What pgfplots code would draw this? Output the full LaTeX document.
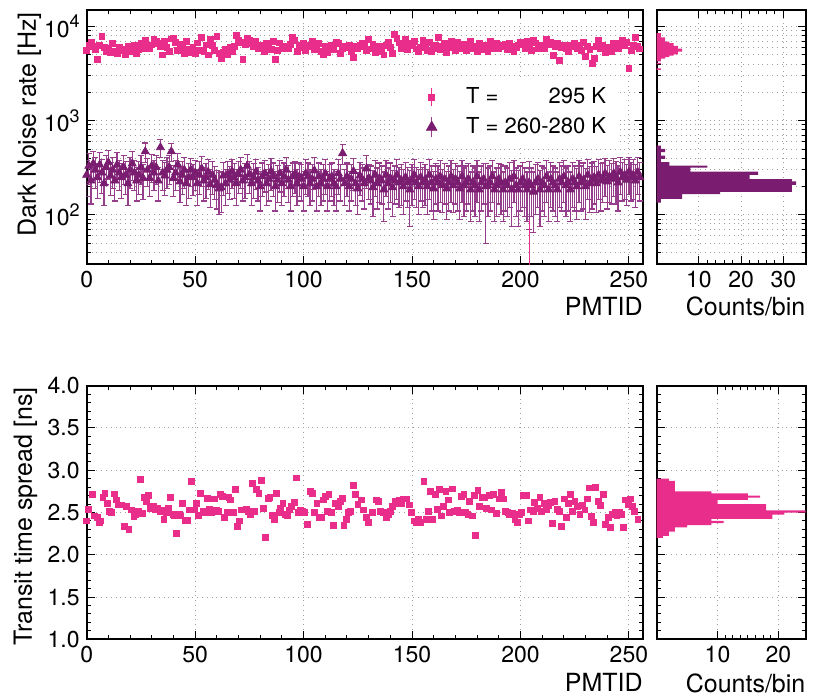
\documentclass[border=0pt]{standalone}
\usepackage{fontspec}
\setmainfont{TeX Gyre Heros}
\usepackage{pgfplots}
\usepackage{pgfplotstable}
\pgfplotsset{compat=1.18}
\definecolor{pinkc}{RGB}{232,45,138}
\definecolor{purplec}{RGB}{122,28,112}
\definecolor{errc}{RGB}{150,62,140}
\newcommand\tenpow[1]{10\raisebox{0.42em}{\fontsize{9}{9}\selectfont #1}}
\newcommand\fs{\fontsize{11.5}{13.5}\selectfont}
\newcommand\fl{\fontsize{12.5}{14.5}\selectfont}
\newcommand\fleg{\fontsize{11}{13}\selectfont}
\pgfplotsset{rootstyle/.style={
  scale only axis, font=\fs,
  /pgf/number format/assume math mode=true,
  axis line style={line width=0.9pt},
  every tick/.style={black, line width=0.5pt},
  major tick length=4pt, minor tick length=2pt,
  grid style={dotted, gray!75, line width=0.5pt},
  tick label style={font=\fs},
  label style={font=\fl},
}}

\pgfplotstableread[row sep=\\]{v\\
5600\\6400\\6800\\6100\\5700\\4500\\6300\\7900\\6000\\5400\\5900\\5300\\6600\\5500\\5200\\6000\\
5800\\5600\\5000\\6200\\5400\\5900\\6300\\5200\\5700\\6600\\5900\\7100\\6100\\5800\\6400\\7300\\
6900\\6600\\6200\\5000\\7000\\6000\\5400\\7400\\7500\\6800\\5600\\6500\\6100\\5200\\6900\\5700\\
5300\\6000\\5200\\6700\\5600\\7700\\5500\\6400\\5000\\7400\\6300\\5600\\7800\\5200\\4600\\5300\\
5800\\5000\\6000\\5500\\6200\\8000\\7200\\6800\\4500\\6500\\7500\\7100\\6600\\6200\\6900\\5800\\
6300\\6000\\5400\\6600\\6400\\5700\\7000\\4500\\5600\\6700\\5900\\6200\\6100\\5800\\6500\\7600\\
7100\\5500\\6300\\6000\\6700\\5600\\6400\\6200\\6900\\5700\\5900\\6600\\5500\\5000\\6100\\5300\\
6000\\6400\\5700\\6800\\6600\\5200\\5800\\6200\\6000\\6400\\5500\\4700\\6100\\5900\\6300\\6700\\
6100\\5600\\7300\\5800\\6500\\5300\\6000\\6200\\5500\\5000\\6300\\6800\\6000\\5200\\8300\\7500\\
6700\\5900\\6100\\7300\\5700\\6300\\6600\\6900\\5800\\5500\\6000\\7100\\6500\\5600\\6800\\5400\\
5900\\6400\\7600\\5700\\6200\\6600\\5300\\6000\\7000\\6400\\5600\\6800\\6100\\5900\\6500\\5600\\
6300\\7000\\5800\\6200\\5500\\6700\\6100\\5700\\6400\\5500\\6900\\6200\\5900\\6600\\5800\\6300\\
6100\\6500\\5700\\6700\\6200\\5500\\6000\\6400\\6800\\6600\\5800\\6900\\6300\\5600\\7100\\6700\\
5900\\6400\\6200\\5800\\7300\\6500\\6800\\4900\\6100\\6600\\4400\\6000\\6400\\5800\\5500\\6300\\
6100\\6700\\5900\\6300\\5600\\6800\\4800\\6200\\5700\\4100\\4600\\6100\\7200\\5900\\6400\\5300\\
5800\\6000\\5500\\6600\\6200\\5900\\6700\\7100\\6300\\6800\\3600\\5600\\6400\\7600\\6100\\5800\\
}\pinktop

\pgfplotstableread[row sep=\\]{v e\\
265 110\\330 120\\230 100\\350 120\\300 110\\250 100\\340 120\\280 110\\215 90\\320 110\\360 120\\260 100\\300 110\\230 90\\340 120\\280 100\\
250 100\\320 110\\265 100\\215 90\\300 110\\350 120\\280 100\\230 90\\265 100\\320 110\\245 100\\470 110\\300 100\\245 90\\330 110\\280 100\\
320 110\\230 90\\520 110\\280 100\\260 100\\300 110\\320 110\\470 100\\245 90\\280 100\\340 110\\225 90\\265 100\\300 110\\215 90\\250 100\\
300 100\\250 90\\280 100\\215 90\\265 100\\310 110\\230 90\\250 100\\285 100\\210 90\\265 100\\235 90\\205 90\\190 90\\195 90\\260 100\\
215 90\\270 100\\235 90\\290 100\\250 100\\215 90\\270 100\\300 110\\230 90\\250 100\\330 110\\270 100\\215 90\\250 100\\285 100\\230 90\\
200 90\\255 100\\275 100\\215 90\\240 100\\290 110\\255 100\\200 90\\235 100\\275 100\\215 90\\255 100\\300 110\\235 100\\200 90\\255 100\\
270 100\\215 90\\255 100\\240 100\\200 90\\275 110\\255 100\\215 90\\240 100\\295 110\\200 90\\255 100\\215 90\\240 100\\275 110\\200 90\\
240 100\\255 100\\215 90\\200 90\\275 110\\240 100\\450 110\\215 90\\255 100\\200 90\\240 100\\290 110\\215 90\\190 90\\260 100\\240 100\\
215 100\\310 120\\245 100\\230 100\\195 100\\265 110\\215 100\\245 110\\230 100\\185 100\\265 110\\215 100\\245 110\\195 100\\230 100\\265 120\\
220 100\\235 110\\200 100\\250 110\\220 100\\185 110\\235 110\\265 120\\220 100\\200 100\\250 110\\220 100\\235 110\\200 100\\265 120\\220 110\\
190 100\\240 110\\220 110\\255 120\\205 100\\240 110\\190 100\\220 110\\255 120\\205 100\\240 110\\220 110\\190 100\\255 120\\205 110\\220 110\\
240 110\\185 100\\220 110\\205 110\\255 120\\185 100\\220 110\\240 110\\200 150\\205 110\\220 110\\255 120\\185 100\\205 110\\240 110\\220 120\\
185 100\\220 110\\205 110\\240 120\\185 110\\255 120\\205 110\\185 110\\220 110\\240 120\\205 110\\185 100\\220 150\\205 110\\175 110\\220 120\\
240 120\\185 110\\220 110\\205 110\\255 120\\185 100\\240 120\\220 110\\205 110\\185 100\\240 120\\220 110\\255 120\\205 110\\220 110\\185 100\\
240 120\\220 110\\200 110\\255 120\\220 110\\235 120\\200 110\\265 120\\215 110\\235 120\\250 120\\215 110\\265 120\\230 120\\245 110\\275 120\\
225 110\\255 120\\240 110\\275 120\\250 120\\220 110\\285 120\\250 110\\265 120\\235 110\\285 120\\250 110\\265 120\\230 110\\285 120\\250 110\\
}\purptop

\pgfplotstableread{
x y
0.0 2.40
0.9 2.54
2.6 2.71
3.4 2.46
4.9 2.44
5.7 2.38
6.4 2.40
7.5 2.68
8.4 2.73
9.5 2.61
10.3 2.51
11.4 2.50
12.6 2.72
13.7 2.65
14.6 2.59
16.0 2.59
17.2 2.34
18.4 2.57
19.5 2.30
20.7 2.53
21.8 2.45
22.6 2.48
23.7 2.51
24.6 2.89
25.6 2.49
26.4 2.68
27.6 2.63
28.4 2.70
29.5 2.55
30.6 2.57
31.5 2.53
32.6 2.55
33.8 2.51
34.6 2.53
35.6 2.42
36.9 2.50
37.6 2.55
38.7 2.68
39.8 2.48
40.3 2.46
41.5 2.25
42.6 2.48
43.3 2.46
44.1 2.61
45.3 2.40
46.4 2.41
47.5 2.53
48.4 2.87
49.5 2.53
50.5 2.61
51.5 2.47
52.5 2.73
53.6 2.51
54.5 2.50
55.6 2.67
56.7 2.54
57.6 2.50
58.7 2.66
59.8 2.53
60.7 2.51
61.8 2.71
62.5 2.69
63.6 2.44
64.8 2.50
65.6 2.68
66.4 2.65
67.5 2.50
68.7 2.77
69.5 2.34
70.5 2.40
71.4 2.53
72.5 2.53
73.6 2.54
74.5 2.51
75.6 2.48
76.4 2.84
77.4 2.51
78.4 2.77
79.4 2.73
80.5 2.88
81.4 2.55
82.5 2.21
83.6 2.67
84.5 2.68
85.6 2.47
86.7 2.42
87.6 2.73
88.7 2.50
89.4 2.55
90.5 2.61
91.4 2.48
92.5 2.47
93.6 2.53
94.5 2.57
95.6 2.62
96.6 2.91
97.6 2.50
98.6 2.53
99.7 2.51
100.6 2.50
101.7 2.36
103.3 2.75
104.0 2.73
105.1 2.50
106.1 2.61
107.1 2.44
108.2 2.44
109.1 2.65
110.2 2.69
111.0 2.51
111.7 2.71
112.8 2.50
113.7 2.35
114.8 2.61
115.9 2.57
116.8 2.63
117.9 2.67
118.6 2.35
119.7 2.42
120.6 2.50
121.7 2.51
122.9 2.82
124.0 2.71
125.0 2.60
126.8 2.65
127.5 2.53
128.8 2.44
129.8 2.38
131.8 2.50
133.4 2.65
134.5 2.63
135.5 2.51
136.7 2.50
138.0 2.44
139.0 2.48
140.1 2.51
141.0 2.57
142.1 2.63
143.1 2.61
144.1 2.65
145.1 2.61
146.0 2.66
147.5 2.66
148.7 2.59
149.8 2.50
150.9 2.40
151.8 2.38
152.9 2.42
153.7 2.38
155.5 2.87
156.8 2.42
157.5 2.51
158.6 2.75
159.5 2.42
160.6 2.71
161.6 2.54
162.6 2.77
163.6 2.46
164.4 2.57
165.6 2.75
166.7 2.65
167.4 2.50
168.7 2.78
169.7 2.51
170.8 2.53
171.7 2.50
172.8 2.69
173.9 2.71
174.8 2.50
175.8 2.48
176.6 2.63
177.7 2.46
178.6 2.70
179.4 2.23
180.4 2.76
181.2 2.57
182.4 2.68
183.5 2.68
184.2 2.55
185.5 2.70
186.6 2.53
187.6 2.71
188.9 2.49
190.1 2.66
191.2 2.74
192.2 2.66
193.2 2.51
194.2 2.50
195.0 2.48
196.1 2.49
197.4 2.42
198.5 2.38
199.4 2.48
200.5 2.50
201.5 2.70
202.6 2.70
203.6 2.40
204.6 2.53
205.9 2.51
206.6 2.62
207.7 2.55
209.0 2.68
209.7 2.51
210.8 2.61
211.8 2.54
212.8 2.58
213.9 2.62
214.8 2.37
215.9 2.63
217.0 2.54
217.9 2.51
219.0 2.34
220.1 2.66
221.0 2.44
222.1 2.61
223.1 2.71
224.1 2.51
225.1 2.63
226.2 2.57
227.4 2.48
228.6 2.58
229.7 2.53
230.7 2.66
231.7 2.79
232.7 2.45
233.5 2.38
234.7 2.80
235.8 2.63
236.9 2.58
238.1 2.71
239.3 2.36
240.4 2.44
241.5 2.32
242.4 2.48
243.5 2.50
244.5 2.46
245.5 2.50
246.5 2.48
247.6 2.32
248.5 2.65
249.6 2.59
250.6 2.66
251.5 2.57
252.6 2.51
254.1 2.42
}\tts

\begin{document}
\begin{tikzpicture}
\path[use as bounding box] (0,0) rectangle (406.5pt,-348.5pt);

% ---------- top left ----------
\begin{axis}[rootstyle, at={(43.35pt,-5pt)}, anchor=north west,
  width=278.15pt, height=127pt,
  xmin=0, xmax=256.5, ymode=log, ymin=30, ymax=15000,
  xtick={0,50,...,250}, minor x tick num=4,
  ytick={100,1000,10000}, yticklabels={\tenpow{2},\tenpow{3},\tenpow{4}},
  minor ytick={40,50,60,70,80,90,200,300,400,500,600,700,800,900,2000,3000,4000,5000,6000,7000,8000,9000},
  xmajorgrids, ymajorgrids, yminorgrids,
  ylabel={Dark Noise rate [Hz]},
  ylabel style={at={(axis description cs:-0.125,0.993)}, anchor=north east, inner sep=0pt},
  xlabel={PMTID},
  xlabel style={at={(axis description cs:1,0)}, anchor=north east, inner sep=0pt, yshift=-16.5pt},
  legend style={at={(axis description cs:0.554,0.735)}, anchor=north west, draw=none, fill=white,
    font=\fleg, row sep=1.5pt, inner sep=3pt, cells={anchor=west}},
]
\addplot[only marks, mark=square*, mark size=1.45pt, pinkc, mark options={draw=none, fill=pinkc},
  error bars/.cd, y dir=both, y fixed relative=0.04, error mark=none,
  error bar style={pinkc, line width=0.5pt},
  /pgfplots/legend image code/.code={
    \path (0pt,0pt) (30pt,0pt);
    \draw[pinkc, line width=0.7pt] (15pt,-4.5pt) -- (15pt,4.5pt);
    \fill[pinkc] (13.5pt,-1.5pt) rectangle (16.5pt,1.5pt);}]
  table[x expr=\coordindex, y=v]{\pinktop};
\addlegendentry{T = \phantom{260-}295 K}
\addplot[only marks, mark=triangle*, mark size=2.3pt, purplec, mark options={draw=none, fill=purplec},
  error bars/.cd, y dir=both, y explicit, error mark=-,
  error bar style={errc, line width=0.6pt},
  error mark options={errc, rotate=90, mark size=1.5pt, line width=0.6pt},
  /pgfplots/legend image code/.code={
    \path (0pt,0pt) (30pt,0pt);
    \draw[errc, line width=0.7pt] (15pt,-5pt) -- (15pt,5pt);
    \fill[purplec] (15pt,3pt) -- (12.4pt,-1.5pt) -- (17.6pt,-1.5pt) -- cycle;}]
  table[x expr=\coordindex, y=v, y error=e]{\purptop};
\addlegendentry{T = 260-280 K}
\addplot[forget plot, pinkc, mark=none, line width=0.5pt,
  error bars/.cd, y dir=plus, y explicit, error mark=none,
  error bar style={pinkc, line width=0.5pt}]
  coordinates {(204,20) +- (0,68)};
\end{axis}

% ---------- top right ----------
\begin{axis}[rootstyle, at={(328.35pt,-5pt)}, anchor=north west,
  width=74.5pt, height=127pt,
  xmin=0, xmax=35.3, ymode=log, ymin=30, ymax=15000,
  xtick={10,20,30}, minor x tick num=4,
  ytick={100,1000,10000}, yticklabels={},
  minor ytick={40,50,60,70,80,90,200,300,400,500,600,700,800,900,2000,3000,4000,5000,6000,7000,8000,9000},
  xmajorgrids, ymajorgrids, yminorgrids,
  xlabel={Counts/bin},
  xlabel style={at={(axis description cs:1,0)}, anchor=north east, inner sep=0pt, yshift=-16pt},
]
\addplot[xbar interval, fill=pinkc, draw=none] coordinates {
(1,3467) (0,3589) (0,3715) (0,3846) (1,3981) (0,4121) (1,4266) (1,4416) (2,4571) (3,4732)
(4,4898) (5,5070) (5,5248) (6,5433) (6,5623) (5,5821) (5,6026) (4,6237) (4,6457) (3,6683)
(2,6918) (2,7161) (2,7413) (1,7674) (1,7943) (1,8222) (0,8511)};
\addplot[xbar interval, fill=purplec, draw=none] coordinates {
(1,135) (6,148) (15,166) (32,175) (32,192) (33,208) (32,226) (22,239) (24,265) (8,288)
(12,318) (3,334) (1,362) (2,393) (1,426) (2,462) (1,501) (0,543)};
\end{axis}

% ---------- bottom left ----------
\begin{axis}[rootstyle, at={(43.35pt,-192.85pt)}, anchor=north west,
  width=278.15pt, height=126.8pt,
  xmin=0, xmax=256.5, ymin=1, ymax=4,
  xtick={0,50,...,250}, minor x tick num=4,
  ytick={1,1.5,...,4}, minor y tick num=4,
  yticklabel style={/pgf/number format/.cd, fixed, fixed zerofill, precision=1},
  xmajorgrids, ymajorgrids,
  ylabel={Transit time spread [ns]},
  ylabel style={at={(axis description cs:-0.132,0.996)}, anchor=north east, inner sep=0pt},
  xlabel={PMTID},
  xlabel style={at={(axis description cs:1,0)}, anchor=north east, inner sep=0pt, yshift=-17pt},
]
\addplot[only marks, mark=square*, mark size=1.45pt, pinkc, mark options={draw=none, fill=pinkc}]
  table[x=x, y=y]{\tts};
\end{axis}

% ---------- bottom right ----------
\begin{axis}[rootstyle, at={(328.35pt,-192.85pt)}, anchor=north west,
  width=74.5pt, height=126.8pt,
  xmin=0, xmax=24.5, ymin=1, ymax=4,
  xtick={10,20}, minor x tick num=7,
  ytick={1,1.5,...,4}, yticklabels={}, minor y tick num=4,
  xmajorgrids, ymajorgrids,
  xlabel={Counts/bin},
  xlabel style={at={(axis description cs:1,0)}, anchor=north east, inner sep=0pt, yshift=-17pt},
]
\addplot[xbar interval, fill=pinkc, draw=none] coordinates {
(1,2.200) (2,2.225) (2,2.250) (3,2.275) (3,2.300) (5,2.325) (9,2.350) (11,2.375) (9,2.400)
(19,2.425) (19,2.450) (21,2.475) (26,2.500) (18,2.525) (18,2.550) (18,2.575) (10,2.600)
(10,2.625) (15,2.650) (17,2.675) (15,2.700) (9,2.725) (3,2.750) (3,2.775) (3,2.800)
(3,2.825) (3,2.850) (2,2.875) (0,2.900)};
\end{axis}
\end{tikzpicture}
\end{document}
